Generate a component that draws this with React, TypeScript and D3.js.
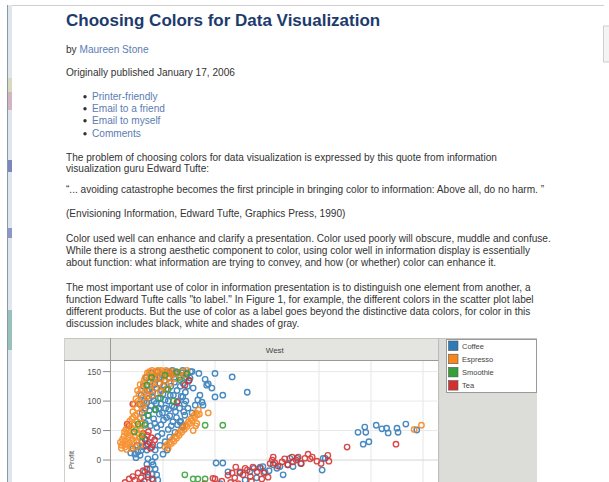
import React from 'react';
import * as d3 from 'd3';

// ---- data (Sales vs Profit, West market) ----
const coffee: [number, number][] = [
  [55,95],[58,110],[60,80],[62,125],[64,100],[66,88],[68,140],[70,118],[72,75],[73,105],[75,132],[77,92],[78,148],[80,115],[82,70],[83,100],[85,138],[86,85],[88,122],[90,150],[91,105],[93,78],[94,130],[96,95],[98,145],[100,112],[101,68],[103,135],[105,88],[106,120],[108,150],[110,100],[112,140],[113,75],[115,125],[117,92],[118,145],[120,110],[122,132],[124,82],[125,150],[127,118],[129,100],[131,140],[133,125],[135,108],[137,148],[139,130],[141,95],[143,115],[145,140],[147,125],[150,135],[153,150],[128,60],[119,65],[96,60],[88,55],[76,58],[66,62],
  [63,72],[69,97],[74,84],[79,108],[84,62],[87,96],[92,88],[97,118],[99,80],[104,102],[107,72],[111,86],[114,110],[116,58],[121,90],[126,72],[132,88],[134,66],[140,82],[144,100],[92,140],[102,126],[84,128],[74,120],
  [118,152],[125,146],[138,152],[145,148],[156,150],
  [169,147],[181,137],[200,147],[233,141],[184,127],[194,122],[200,107],[215,110],[262,115],[146,147],[152,139],[158,122],[171,110],[175,98],[177,93],[167,102],[162,93],[148,88],[142,76],[156,80],[138,107],[138,59],[187,129],[133,64],[137,56],[123,47],[113,39],[104,31],[94,25],[108,17],[100,10],[85,5],
  [71,2],[79,-3],[81,-8],[85,-15],[75,-15],[65,-20],[79,-24],[88,-25],[71,-29],[81,-34],[90,-34],[69,-7],[60,-40],[76,-45],
  [42,19],[50,25],[52,14],[60,31],[62,22],[65,36],[46,10],[56,8],[71,27],[69,17],[79,22],[85,17],[90,40],[98,45],[110,52],[48,4],[58,16],[38,12],
  [202,-5],[215,-5],[225,-20],[248,-22],[258,-34],[267,-20],[275,-14],[287,-12],[292,-11],[296,-20],[304,-18],[312,-8],[319,-14],[325,-11],[331,-25],[340,-8],[344,3],[350,-11],[358,3],[365,-6],[406,-17],[408,3],[412,3],[210,-40],[235,-42],[280,-30],
  [475,47],[488,56],[490,47],[510,59],[521,53],[530,54],[533,46],[550,54],[552,47],[567,61],[588,51],[485,27],[496,31]
];
const espresso: [number, number][] = [
  [18,30],[20,25],[22,35],[24,28],[25,40],[27,22],[28,33],[30,45],[31,27],[33,38],[34,50],[35,30],[37,42],[38,24],[39,55],[41,35],[42,47],[44,30],[45,60],[46,40],[48,52],[49,33],[50,65],[52,45],[53,58],[55,38],[56,70],[57,50],[59,62],[60,43],
  [20,20],[30,18],[40,20],[48,22],[56,25],[26,48],[32,58],[36,66],[43,72],[29,52],
  [40,70],[42,82],[45,95],[47,76],[50,88],[52,100],[54,112],[55,80],[57,93],[58,120],[60,105],[62,130],[63,85],[65,115],[66,140],[67,98],[68,125],[70,148],[71,108],[72,135],[74,150],[75,118],[76,142],[78,128],[79,152],[80,110],[82,145],[83,138],[85,150],[86,122],[88,140],[90,152],[92,130],[94,148],[95,115],[97,138],[99,150],[100,125],[102,145],[104,135],[106,152],[108,120],[110,140],[112,150],[115,130],[118,145],[120,150],[124,138],[128,148],[132,142],[136,150],
  [48,104],[51,118],[56,128],[61,92],[64,136],[69,112],[73,146],[81,132],[87,148],[96,152],[103,148],[113,146],[140,144],[146,152],
  [104,22],[108,26],[110,20],[113,30],[116,28],[118,35],[121,32],[124,40],[126,37],[129,45],[131,42],[134,50],[136,47],[139,55],[141,52],[144,60],[146,57],[149,65],[151,62],[154,70],[156,67],[159,75],[161,72],[163,80],[166,77],[168,85],[158,50],[163,58],[165,62],[170,78],[187,80],
  [583,52],[597,59]
];
const smoothie: [number, number][] = [
  [69,127],[104,144],[146,146],[127,149],[85,86],[71,76],[52,61],[65,59],[133,136],[110,120],[181,59],[215,59],[60,40],[95,105],[45,48],[78,140],[120,100],
  [142,-25],[158,-32],[167,-32],[181,-32]
];
const tea: [number, number][] = [
  [31,61],[42,95],[142,127],[127,98],[35,58],[150,135],[113,148],
  [62,45],[66,34],[68,24],[70,42],[74,30],[78,38],[80,26],[84,34],[72,48],[76,20],
  [27,-38],[35,-32],[42,-28],[46,-34],[52,-22],[58,-30],[62,-18],[69,-15],[71,-25],[79,-32],[64,-36],[55,-40],[200,-32],
  [196,-31],[213,-36],[225,-26],[233,-22],[238,-30],[248,-20],[254,-25],[258,-14],[262,-17],[268,-28],[273,-12],[281,-20],[287,-14],[294,-22],[302,-29],[306,-6],[310,0],[312,5],[315,-5],[321,-10],[329,-3],[334,2],[340,-8],[348,5],[350,-3],[356,0],[360,5],[366,-6],[373,3],[379,10],[383,2],[387,5],[396,-2],[404,-6],[417,8],[419,-2],[454,22],[548,27],[230,-38],[245,-40],[270,-36],[290,-32],[180,-40],[240,-12]
];
const products = ['Coffee', 'Espresso', 'Smoothie', 'Tea'];
const productColors = ['#2f7ab8', '#f7861c', '#35a03a', '#d3302f'];
const yTicks = [0, 50, 100, 150];
const xGrid = [100, 200, 300, 400, 500, 600];
const panelTitle = 'West';
const yTitle = 'Profit';

const bodyLines: [string, number][] = [
  ['The problem of choosing colors for data visualization is expressed by this quote from information', 160.5],
  ['visualization guru Edward Tufte:', 172],
  ['\u201C... avoiding catastrophe becomes the first principle in bringing color to information: Above all, do no harm. \u201D', 193],
  ['(Envisioning Information, Edward Tufte, Graphics Press, 1990)', 217],
  ['Color used well can enhance and clarify a presentation. Color used poorly will obscure, muddle and confuse.', 242],
  ['While there is a strong aesthetic component to color, using color well in information display is essentially', 254],
  ['about function: what information are trying to convey, and how (or whether) color can enhance it.', 266],
  ['The most important use of color in information presentation is to distinguish one element from another, a', 291],
  ['function Edward Tufte calls "to label." In Figure 1, for example, the different colors in the scatter plot label', 303],
  ['different products. But the use of color as a label goes beyond the distinctive data colors, for color in this', 315],
  ['discussion includes black, white and shades of gray.', 327],
];
const links: [string, number][] = [
  ['Printer-friendly', 100], ['Email to a friend', 112], ['Email to myself', 124], ['Comments', 137],
];

const FONT = "'Liberation Sans', Arial, sans-serif";

export default function App() {
  const W = 609, H = 482;
  const plotL = 111, plotR = 438.6, plotT = 361, plotB = 519;
  const x = d3.scaleLinear().domain([0, 630]).range([plotL, plotR]);
  const y = d3.scaleLinear().domain([-100, 168]).range([plotB, plotT]);
  const series = [coffee, espresso, smoothie, tea];
  const order = [0, 3, 1, 2];

  return (
    <svg width={W} height={H} style={{ position: 'absolute', left: 0, top: 0, background: '#fff' }} fontFamily={FONT}>
      <defs>
        <clipPath id="plotClip"><rect x={plotL} y={plotT} width={plotR - plotL} height={plotB - plotT} /></clipPath>
      </defs>
      {/* browser frame */}
      <rect x={7} y={5} width={5} height={H} fill="#dfe6ee" />
      <line x1={7.5} y1={5} x2={7.5} y2={H} stroke="#8a98a8" />
      <rect x={8} y={78} width={4} height={14} fill="#c9c46a" opacity={0.35} />
      <rect x={8} y={92} width={4} height={18} fill="#b65a6a" opacity={0.35} />
      <rect x={8} y={160} width={4} height={12} fill="#2b3a8f" opacity={0.55} />
      <rect x={8} y={228} width={4} height={10} fill="#3a4a9a" opacity={0.5} />
      <rect x={8} y={310} width={4} height={40} fill="#2f8a6e" opacity={0.4} />
      <line x1={12} y1={5.5} x2={604} y2={5.5} stroke="#cfcfcf" />
      <rect x={603.5} y={26} width={6} height={36} fill="#f4f4f4" stroke="#cfcfcf" />

      {/* page text */}
      <text x={66} y={26} fontSize={17} fontWeight="bold" fill="#1d3b6c">Choosing Colors for Data Visualization</text>
      <text x={66} y={53} fontSize={10.1} fill="#333">by <tspan fill="#5b7db2">Maureen Stone</tspan></text>
      <text x={66} y={76} fontSize={10.1} fill="#333">Originally published January 17, 2006</text>
      {links.map(([t, by]) => (
        <g key={t}>
          <circle cx={85} cy={by - 3.3} r={1.7} fill="#333" />
          <text x={92} y={by} fontSize={10.1} fill="#5b7db2">{t}</text>
        </g>
      ))}
      {bodyLines.map(([t, by]) => (
        <text key={t} x={66} y={by} fontSize={10.1} fill="#333">{t}</text>
      ))}

      {/* chart frame */}
      <rect x={64} y={338} width={plotR - 64} height={plotT - 338} fill="#e4e4e0" />
      <rect x={plotR} y={338} width={537 - plotR} height={H - 338} fill="#dcdcd8" />
      <rect x={64} y={plotT} width={plotL - 64} height={H - plotT} fill="#fff" />
      <rect x={plotL} y={plotT} width={plotR - plotL} height={H - plotT} fill="#fff" />
      <line x1={64} y1={338.5} x2={537} y2={338.5} stroke="#c4c4c0" />
      <line x1={64.5} y1={338} x2={64.5} y2={H} stroke="#d0d0cc" />
      <line x1={64} y1={plotT - 0.5} x2={plotR} y2={plotT - 0.5} stroke="#9a9a96" />
      <line x1={plotL - 0.5} y1={338} x2={plotL - 0.5} y2={H} stroke="#9a9a96" />
      <line x1={plotR} y1={338} x2={plotR} y2={H} stroke="#b8b8b4" />
      <text x={(plotL + plotR) / 2} y={353} fontSize={8} textAnchor="middle" fill="#444">{panelTitle}</text>

      {/* grid */}
      {xGrid.map(v => (
        <line key={'gx' + v} x1={x(v)} x2={x(v)} y1={plotT} y2={plotB} stroke="#e6e6e6" />
      ))}
      {yTicks.map(v => (
        <g key={'gy' + v}>
          <line x1={plotL} x2={plotR} y1={y(v)} y2={y(v)} stroke={v === 0 ? '#d4d4d4' : '#e8e8e8'} />
          <line x1={103} x2={plotL - 1} y1={y(v)} y2={y(v)} stroke="#888" />
          <text x={101} y={y(v) + 3} fontSize={8.3} textAnchor="end" fill="#555">{v}</text>
        </g>
      ))}
      <text transform={`translate(74,${y(0)}) rotate(-90)`} fontSize={8} textAnchor="middle" fill="#555">{yTitle}</text>

      {/* marks */}
      <g clipPath="url(#plotClip)">
        {order.map(si => (
          <g key={products[si]} stroke={productColors[si]} fill="none" strokeWidth={1.4} opacity={0.88}>
            {series[si].map((p, i) => (
              <circle key={i} cx={x(p[0])} cy={y(p[1])} r={2.7} />
            ))}
          </g>
        ))}
      </g>

      {/* legend */}
      <rect x={446.5} y={339.5} width={90} height={53} fill="#fff" stroke="#9a9a9a" />
      {products.map((p, i) => (
        <g key={p}>
          <rect x={448.5} y={341 + i * 13.2} width={9.5} height={9.5} fill={productColors[i]} stroke="#555" strokeWidth={0.6} />
          <text x={462} y={348.8 + i * 13.2} fontSize={7.5} fill="#444">{p}</text>
        </g>
      ))}
    </svg>
  );
}
